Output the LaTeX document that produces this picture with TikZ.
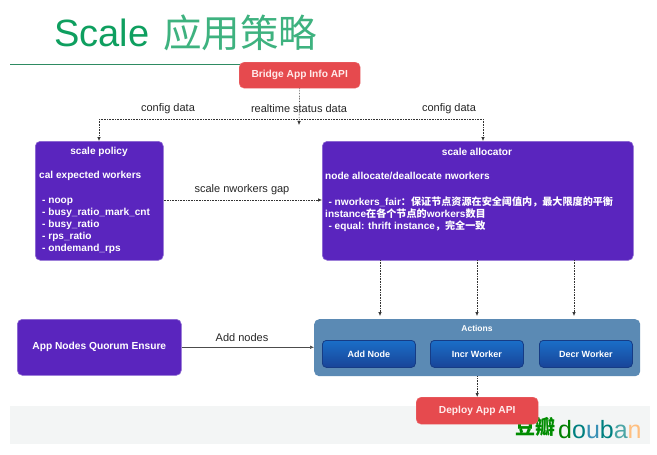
\documentclass[tikz,border=0pt]{standalone}
\usepackage{fontspec}
\setmainfont{Liberation Sans}
\newfontfamily\cjkf{Noto Sans CJK SC}
\usetikzlibrary{arrows.meta,shadows}
\definecolor{purp}{HTML}{5A25BE}
\definecolor{redb}{HTML}{E64A4E}
\definecolor{steel}{HTML}{5B8AB4}
\definecolor{blueb}{HTML}{1F55BE}
\definecolor{titleg}{HTML}{0E9F5F}
\definecolor{band}{HTML}{F3F5F5}
\definecolor{lineg}{HTML}{2E8B62}
\tikzset{
  x=1pt,y=-1pt,
  purpbox/.style={draw=purp!70!white,line width=.6pt,fill=purp,rounded corners=5pt,anchor=north west,inner sep=0pt,text=white},
  redbox/.style={fill=redb,draw=redb!80!white,rounded corners=5pt,anchor=north west,inner sep=0pt,text=white!92!red,font=\fontsize{10.2}{11}\selectfont\bfseries,align=center},
  actbox/.style={fill=steel,rounded corners=5pt,anchor=north west,inner sep=0pt},
  bluebox/.style={top color=blueb!85!cyan,bottom color=blueb!80!black,draw=blueb!70!black,line width=.8pt,rounded corners=4pt,anchor=north west,inner sep=0pt,text=white,font=\fontsize{9}{11}\selectfont\bfseries},
  lbl/.style={font=\fontsize{11}{12}\selectfont,text=black!85,inner sep=0pt},
  dotline/.style={densely dotted,line width=.6pt,black!80},
  tip/.style={-{Latex[length=4pt,width=3.5pt]}},
  bt/.style={text=white,inner sep=0pt,anchor=west,font=\fontsize{10.1}{12}\selectfont\bfseries,align=left}
}
\begin{document}
\begin{tikzpicture}
\useasboundingbox (0,0) rectangle (657,455);
\fill[white] (0,0) rectangle (657,455);
\fill[band] (10,406) rectangle (650,444);
\draw[lineg,line width=.9pt] (10,64) -- (240,64);
% title
\node[anchor=west,text=titleg,inner sep=0pt,font=\fontsize{38}{40}\selectfont] (title) at (54,33) {Scale};
\node[anchor=west,text=titleg!80!white,inner sep=0pt,font=\cjkf\fontsize{38.5}{40}\selectfont] (titlecjk) at (163,33) {应用策略};
% logo
\node[anchor=west,inner sep=0pt,text=green!55!black,font=\cjkf\fontsize{20}{22}\selectfont\bfseries] (logocjk) at (515,427) {豆瓣};
\node[anchor=west,inner sep=0pt,font=\fontsize{25}{27}\selectfont] (logo) at (558,430) {\textcolor{green!50!black}{d}\textcolor{teal}{o}\textcolor{cyan!70!black}{u}\textcolor{teal}{b}\textcolor{teal!70!white}{a}\textcolor{orange!50!white}{n}};
% nodes
\node[redbox,minimum width=121pt,minimum height=26pt] (bridge) at (239,62) {Bridge App Info API};
\node[purpbox,minimum width=128pt,minimum height=119pt] (policy) at (35,141) {};
\node[purpbox,minimum width=311pt,minimum height=119pt] (alloc) at (322,141) {};
\node[purpbox,minimum width=164pt,minimum height=56pt,font=\fontsize{10.2}{12}\selectfont\bfseries] (quorum) at (17,319) {App Nodes Quorum Ensure};
\node[actbox,minimum width=326pt,minimum height=57pt] (actions) at (314,319) {};
\node[bluebox,minimum width=93pt,minimum height=27pt] (addn) at (322,340) {Add Node};
\node[bluebox,minimum width=93pt,minimum height=27pt] (incr) at (430,340) {Incr Worker};
\node[bluebox,minimum width=93pt,minimum height=27pt] (decr) at (539,340) {Decr Worker};
\node[redbox,minimum width=122pt,minimum height=27pt] (deploy) at (416,397) {Deploy App API};
% box text
\node[bt,anchor=center] (ptitle) at (99,151.5) {scale policy};
\node[bt] (pt1) at (39,175.5) {cal expected workers};
\node[bt,anchor=north west] (pt2) at (42,197.5) {- noop\\- busy\_ratio\_mark\_cnt\\- busy\_ratio\\- rps\_ratio\\- ondemand\_rps};
\node[bt,anchor=center] (atitle) at (477,151.5) {scale allocator};
\node[bt] (at1) at (325,175.5) {node allocate/deallocate nworkers};
\node[bt,anchor=north west] (at2) at (325,197) {\,\,- nworkers\_fair{\cjkf\bfseries\fontsize{10.1}{12}\selectfont ：保证节点资源在安全阈值内，最大限度的平衡}\\instance{\cjkf\bfseries\fontsize{10.1}{12}\selectfont 在各个节点的}workers{\cjkf\bfseries\fontsize{10.1}{12}\selectfont 数目}\\\,\,- equal: thrift instance{\cjkf\bfseries\fontsize{10.1}{12}\selectfont ，完全一致}};
\node[text=white,inner sep=0pt,font=\fontsize{8.5}{10}\selectfont\bfseries] (acttitle) at (477,328) {Actions};
% connectors
\coordinate (jl) at (99,119);
\coordinate (jr) at (483,119);
\coordinate (jm) at (299,125);
\draw[dotline,tip] (bridge.south) -- (jm);
\draw[dotline] (jl) -- (jr);
\draw[dotline,tip] (jl) -- (jl |- policy.north);
\draw[dotline,tip] (jr) -- (jr |- alloc.north);
\draw[dotline,tip] (policy.east |- 0,200) -- (alloc.west |- 0,200);
\draw[dotline,tip] (380,260) -- (380,316);
\draw[dotline,tip] (477,260) -- (477,316);
\draw[dotline,tip] (574,260) -- (574,316);
\draw[dotline,tip] (actions.south) -- (deploy.north);
\draw[black!70,line width=.5pt,tip] (quorum.east) -- (actions.west |- quorum.east);
% labels
\node[lbl] (l1) at (168,109) {config data};
\node[lbl] (l2) at (299,109) {realtime status data};
\node[lbl] (l3) at (449,109) {config data};
\node[lbl] (l4) at (242,190) {scale nworkers gap};
\node[lbl] (l5) at (242,338) {Add nodes};
\end{tikzpicture}
\end{document}
